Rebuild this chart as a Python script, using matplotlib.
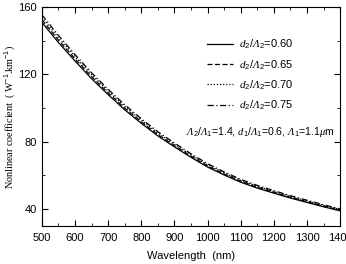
import numpy as np
import matplotlib
matplotlib.use("Agg")
import matplotlib.pyplot as plt
from matplotlib.ticker import MultipleLocator

# wavelengths (nm)
wavelength = [500, 550, 600, 650, 700, 750, 800, 850, 900, 950,
              1000, 1050, 1100, 1150, 1200, 1250, 1300, 1350, 1400]

# nonlinear coefficient (W^-1 km^-1) for each d2/L2
gamma_060 = [151.0, 139.0, 128.0, 117.5, 108.0, 99.0, 91.0, 83.5, 77.0, 70.8,
             65.0, 60.3, 56.0, 52.5, 49.5, 46.6, 44.0, 41.4, 39.0]
gamma_065 = [152.5, 140.4, 129.3, 118.7, 109.1, 100.0, 91.9, 84.3, 77.8, 71.5,
             65.7, 60.9, 56.6, 53.0, 50.0, 47.1, 44.4, 41.8, 39.4]
gamma_070 = [154.0, 141.8, 130.6, 119.9, 110.2, 101.0, 92.8, 85.2, 78.5, 72.2,
             66.3, 61.5, 57.1, 53.6, 50.5, 47.5, 44.9, 42.2, 39.8]
gamma_075 = [155.5, 143.2, 131.8, 121.0, 111.2, 102.0, 93.7, 86.0, 79.3, 72.9,
             67.0, 62.1, 57.7, 54.1, 51.0, 48.0, 45.3, 42.6, 40.2]

# italic capital lambda goes through the sf slot (the it slot forces greek capitals upright)
labels = [r"$d_2/\mathsf{Λ}_2$=0.60", r"$d_2/\mathsf{Λ}_2$=0.65",
          r"$d_2/\mathsf{Λ}_2$=0.70", r"$d_2/\mathsf{Λ}_2$=0.75"]

plt.rcParams["font.family"] = ["Liberation Sans", "DejaVu Sans"]
plt.rcParams["mathtext.fontset"] = "custom"
plt.rcParams["mathtext.it"] = "Liberation Serif:italic"
plt.rcParams["mathtext.sf"] = "Liberation Serif:italic"
plt.rcParams["mathtext.rm"] = "Liberation Sans"

fig = plt.figure(figsize=(3.46, 2.64), dpi=100)
ax = fig.add_axes([0.121, 0.144, 0.862, 0.829])

styles = ["-", (0, (4, 2)), (0, (1, 1.5)), (0, (5, 2, 1, 2))]
for ys, ls, lab in zip([gamma_060, gamma_065, gamma_070, gamma_075], styles, labels):
    ax.plot(wavelength, ys, color="black", linestyle=ls, linewidth=0.9, label=lab)

ax.set_xlim(500, 1400)
ax.set_ylim(30, 160)
ax.xaxis.set_major_locator(MultipleLocator(100))
ax.xaxis.set_minor_locator(MultipleLocator(50))
ax.yaxis.set_major_locator(MultipleLocator(40))
ax.yaxis.set_minor_locator(MultipleLocator(20))
ax.tick_params(which="both", direction="in", top=True, right=True, labelsize=8)
ax.tick_params(which="major", length=4)
ax.tick_params(which="minor", length=2.5)
ax.tick_params(axis="x", pad=5)

ax.set_xlabel("Wavelength  (nm)", fontsize=8, labelpad=6)
ax.set_ylabel(r"Nonlinear coefficient  ( W$^{-1}$.km$^{-1}$)", fontsize=7.3,
              family="Liberation Serif", labelpad=1)

ax.legend(loc="upper right", bbox_to_anchor=(0.875, 0.905), frameon=False,
          fontsize=8, handlelength=2.3, handletextpad=0.5, labelspacing=0.6)
ax.text(0.982, 0.43, r"$\mathsf{Λ}_2/\mathsf{Λ}_1$=1.4, $d_1/\mathsf{Λ}_1$=0.6, $\mathsf{Λ}_1$=1.1$\mu$m",
        transform=ax.transAxes, ha="right", va="center", fontsize=7.6)

fig.savefig("out.png", dpi=100)
